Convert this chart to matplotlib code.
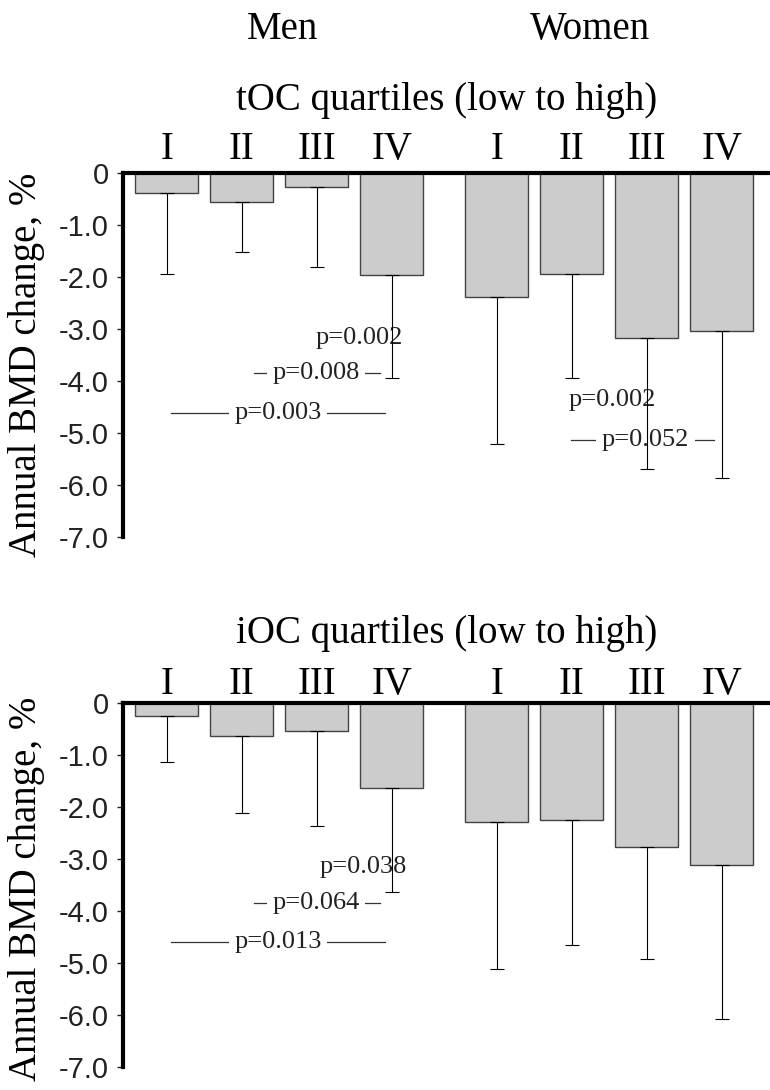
import numpy as np
import matplotlib
matplotlib.use("Agg")
import matplotlib.pyplot as plt

plt.rcParams["font.family"] = ["Liberation Serif", "DejaVu Serif"]

quartiles = ["I", "II", "III", "IV"]
groups = ["Men", "Women"]

# annual BMD change (%), mean and lower SD
toc_men = [-0.37, -0.56, -0.26, -1.95]
toc_men_sd = [1.57, 0.96, 1.54, 2.00]
toc_women = [-2.38, -1.94, -3.18, -3.03]
toc_women_sd = [2.84, 2.01, 2.52, 2.83]

ioc_men = [-0.25, -0.64, -0.53, -1.63]
ioc_men_sd = [0.89, 1.48, 1.83, 2.01]
ioc_women = [-2.29, -2.25, -2.76, -3.12]
ioc_women_sd = [2.82, 2.41, 2.16, 2.96]

yticks = [0, -1, -2, -3, -4, -5, -6, -7]
ytick_labels = ["0", "-1.0", "-2.0", "-3.0", "-4.0", "-5.0", "-6.0", "-7.0"]

# p-value labels: (text, text x, y, line start, line end) - line None = text only
toc_pvals = [("p=0.002", 2.56, -3.18, None, None),
             ("p=0.008", 1.99, -3.84, 1.16, 2.84),
             ("p=0.003", 1.48, -4.62, 0.06, 2.91),
             ("p=0.002", 5.94, -4.37, None, None),
             ("p=0.052", 6.38, -5.13, 5.39, 7.29)]
ioc_pvals = [("p=0.038", 2.62, -3.15, None, None),
             ("p=0.064", 1.99, -3.85, 1.16, 2.84),
             ("p=0.013", 1.48, -4.59, 0.06, 2.91)]

x_men = np.arange(4)
x_women = np.arange(4) + 4.4
x_all = np.concatenate([x_men, x_women])


def draw_panel(ax, men, men_sd, women, women_sd, pvals, numeral_pad):
    vals = men + women
    sds = men_sd + women_sd
    ax.bar(x_all, vals, width=0.84, color="#cccccc", edgecolor="#444444",
           linewidth=1.0, zorder=1)
    ax.errorbar(x_all, vals, yerr=[sds, np.zeros(len(sds))], fmt="none",
                ecolor="black", elinewidth=0.8, capsize=5, capthick=0.8,
                zorder=4)
    for txt, tx, ty, x0, x1 in pvals:
        if x0 is not None:
            ax.plot([x0, x1], [ty, ty], color="#333333", lw=0.9, zorder=2)
            ax.text(tx, ty, txt, ha="center", va="center", fontsize=19,
                    color="#222222", zorder=3,
                    bbox=dict(facecolor="white", edgecolor="none", pad=4))
        else:
            ax.text(tx, ty, txt, ha="center", va="center", fontsize=19,
                    color="#222222", zorder=3)

    ax.set_xlim(-0.583, 8.04)
    ax.set_ylim(-7, 0)
    for s in ["right", "bottom"]:
        ax.spines[s].set_visible(False)
    ax.spines["left"].set_linewidth(3)
    ax.spines["top"].set_linewidth(3)

    ax.set_yticks(yticks)
    ax.set_yticklabels(ytick_labels, family="Liberation Sans", fontsize=21)
    ax.tick_params(axis="y", length=4, width=1, pad=6, colors="#222222")

    ax.xaxis.tick_top()
    ax.set_xticks(x_all)
    ax.set_xticklabels(quartiles * 2, fontsize=28)
    ax.tick_params(axis="x", length=0, pad=numeral_pad)


fig = plt.figure(figsize=(7.7, 10.9), dpi=100)
ax1 = fig.add_axes([0.1597, 0.5076, 0.8403, 0.3334])
ax2 = fig.add_axes([0.1597, 0.0214, 0.8403, 0.3334])

draw_panel(ax1, toc_men, toc_men_sd, toc_women, toc_women_sd, toc_pvals, 4)
draw_panel(ax2, ioc_men, ioc_men_sd, ioc_women, ioc_women_sd, ioc_pvals, 0)

fig.text(0.367, 0.9725, groups[0], ha="center", va="center", fontsize=28)
fig.text(0.766, 0.9725, groups[1], ha="center", va="center", fontsize=28)
fig.text(0.5805, 0.908, "tOC quartiles (low to high)", ha="center",
         va="center", fontsize=28)
fig.text(0.5805, 0.419, "iOC quartiles (low to high)", ha="center",
         va="center", fontsize=28)

for yc in [0.665, 0.185]:
    fig.text(0.035, yc, "Annual BMD change, %", rotation=90, ha="center",
             va="center", fontsize=28)

fig.savefig("out.png", dpi=100)
